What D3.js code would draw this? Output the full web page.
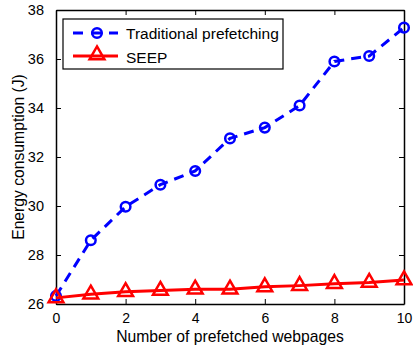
<!DOCTYPE html>
<html>
<head>
<meta charset="utf-8">
<script src="https://cdn.jsdelivr.net/npm/d3@7"></script>
<style>
  body { margin: 0; background: #fff; }
  text { font-family: Arial, "Liberation Sans", sans-serif; }
</style>
</head>
<body>
<script>
'use strict';

const width = 413;
const height = 349;
const margin = {top: 10, right: 9, bottom: 45, left: 56};

// data
const pages = [0, 1, 2, 3, 4, 5, 6, 7, 8, 9, 10];
const traditional = [26.33, 28.6, 29.97, 30.87, 31.43, 32.76, 33.2, 34.1, 35.9, 36.12, 37.28];
const seep = [26.25, 26.4, 26.5, 26.55, 26.6, 26.6, 26.7, 26.75, 26.83, 26.88, 26.98];
const xTicks = [0, 2, 4, 6, 8, 10];
const yTicks = [26, 28, 30, 32, 34, 36, 38];
const seriesNames = ['Traditional prefetching', 'SEEP'];

const svg = d3.select('body')
  .append('svg')
  .attr('width', width)
  .attr('height', height);

const x = d3.scaleLinear()
  .domain([0, 10])
  .range([margin.left, width - margin.right]);

const y = d3.scaleLinear()
  .domain([26, 38])
  .range([height - margin.bottom, margin.top]);

// axes, MATLAB style with inward ticks mirrored on all sides
svg.append('g')
  .attr('transform', `translate(0, ${height - margin.bottom})`)
  .call(d3.axisBottom(x).tickValues(xTicks).tickSizeInner(-5).tickSizeOuter(0).tickPadding(9))
  .call(g => g.selectAll('text').attr('font-size', 14).attr('fill', '#000'));

svg.append('g')
  .attr('transform', `translate(0, ${margin.top})`)
  .call(d3.axisTop(x).tickValues(xTicks).tickSizeInner(-5).tickSizeOuter(0).tickFormat(''));

svg.append('g')
  .attr('transform', `translate(${margin.left}, 0)`)
  .call(d3.axisLeft(y).tickValues(yTicks).tickSizeInner(-5).tickSizeOuter(0).tickPadding(12))
  .call(g => g.selectAll('text').attr('font-size', 14.5).attr('fill', '#000'));

svg.append('g')
  .attr('transform', `translate(${width - margin.right}, 0)`)
  .call(d3.axisRight(y).tickValues(yTicks).tickSizeInner(-5).tickSizeOuter(0).tickFormat(''));

svg.selectAll('.domain').attr('stroke', '#000').attr('stroke-width', 1.5);
svg.selectAll('.tick line').attr('stroke', '#000');

// axis titles
svg.append('text')
  .attr('x', (margin.left + width - margin.right) / 2)
  .attr('y', height - 7)
  .attr('text-anchor', 'middle')
  .attr('font-size', 15.7)
  .text('Number of prefetched webpages');

svg.append('text')
  .attr('transform', `translate(24, ${(margin.top + height - margin.bottom) / 2}) rotate(-90)`)
  .attr('text-anchor', 'middle')
  .attr('font-size', 15.7)
  .text('Energy consumption (J)');

const line = d3.line()
  .x((d, i) => x(pages[i]))
  .y((d) => y(d));

// traditional prefetching: blue dashed with circles
svg.append('path')
  .datum(traditional)
  .attr('d', line)
  .attr('fill', 'none')
  .attr('stroke', '#0000ff')
  .attr('stroke-width', 3)
  .attr('stroke-dasharray', '10,7');

svg.selectAll('circle.trad')
  .data(traditional)
  .enter()
  .append('circle')
  .attr('class', 'trad')
  .attr('cx', (d, i) => x(pages[i]))
  .attr('cy', (d) => y(d))
  .attr('r', 4.8)
  .attr('fill', 'none')
  .attr('stroke', '#0000ff')
  .attr('stroke-width', 2.5);

// SEEP: red solid with triangles
svg.append('path')
  .datum(seep)
  .attr('d', line)
  .attr('fill', 'none')
  .attr('stroke', '#ff0000')
  .attr('stroke-width', 3);

const tri = d3.symbol().type(d3.symbolTriangle).size(95);

svg.selectAll('path.seep')
  .data(seep)
  .enter()
  .append('path')
  .attr('class', 'seep')
  .attr('d', tri)
  .attr('transform', (d, i) => `translate(${x(pages[i])}, ${y(d)})`)
  .attr('fill', 'none')
  .attr('stroke', '#ff0000')
  .attr('stroke-width', 2.5);

// legend
const legend = svg.append('g').attr('transform', 'translate(63, 19)');

legend.append('rect')
  .attr('width', 220)
  .attr('height', 50)
  .attr('fill', '#fff')
  .attr('stroke', '#000')
  .attr('stroke-width', 1.2);

legend.append('line')
  .attr('x1', 10).attr('x2', 55)
  .attr('y1', 14).attr('y2', 14)
  .attr('stroke', '#0000ff')
  .attr('stroke-width', 3)
  .attr('stroke-dasharray', '10,8');

legend.append('circle')
  .attr('cx', 34).attr('cy', 14).attr('r', 4.8)
  .attr('fill', 'none')
  .attr('stroke', '#0000ff')
  .attr('stroke-width', 2.5);

legend.append('line')
  .attr('x1', 10).attr('x2', 55)
  .attr('y1', 37).attr('y2', 37)
  .attr('stroke', '#ff0000')
  .attr('stroke-width', 3);

legend.append('path')
  .attr('d', tri)
  .attr('transform', 'translate(34, 36)')
  .attr('fill', 'none')
  .attr('stroke', '#ff0000')
  .attr('stroke-width', 2.5);

legend.selectAll('text.lbl')
  .data(seriesNames)
  .enter()
  .append('text')
  .attr('class', 'lbl')
  .attr('x', 63)
  .attr('y', (d, i) => 20 + i * 23.5)
  .attr('font-size', 15.5)
  .text((d) => d);
</script>
</body>
</html>
